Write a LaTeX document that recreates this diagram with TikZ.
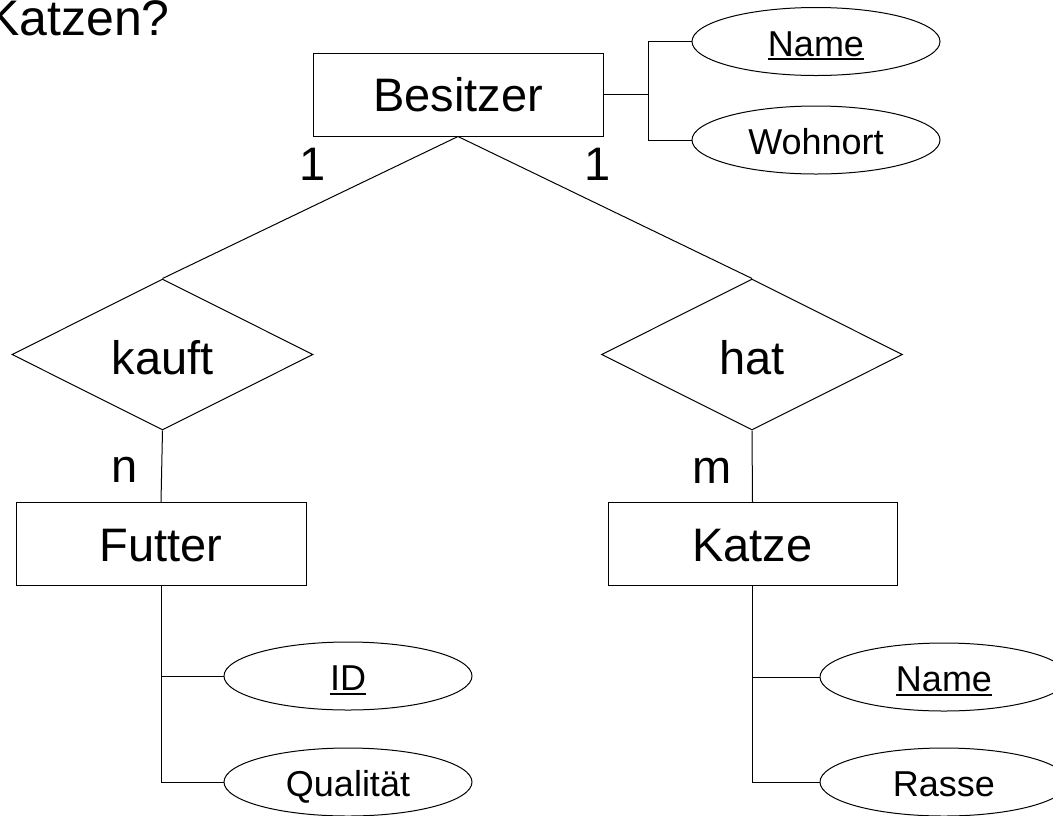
\documentclass[tikz,border=0pt]{standalone}
\usepackage{fontspec}
\setmainfont{Liberation Sans}
\usetikzlibrary{shapes.geometric}

% underlined key attribute
\newsavebox\keybox
\newcommand{\keyattr}[1]{\sbox\keybox{#1}\rlap{\rule[-4pt]{\wd\keybox}{2pt}}\usebox\keybox}

\tikzset{
  bigfont/.style={font=\fontsize{47}{56}\selectfont},
  entity/.style={draw, rectangle, line width=1pt, minimum width=290pt, minimum height=83pt,
                 inner sep=0pt, bigfont, text height=34pt, text depth=0pt},
  relation/.style={draw, diamond, line width=1pt, minimum width=301pt, minimum height=151pt,
                   inner sep=0pt, bigfont, text height=39pt, text depth=0pt},
  attr/.style={draw, ellipse, line width=1pt, minimum width=248pt, minimum height=68pt,
               inner sep=0pt, font=\fontsize{36}{43}\selectfont, text height=29pt, text depth=0pt},
  card/.style={bigfont, inner sep=0pt, anchor=base},
  link/.style={line width=1pt}
}

\begin{document}
\begin{tikzpicture}[x=1pt, y=-1pt]
  \useasboundingbox (0,0) rectangle (1053,815);
  \clip (0,0) rectangle (1053,815);

  \node[inner sep=0pt, anchor=base west, font=\fontsize{50}{60}\selectfont] (title) at (-14,35) {Katzen?};

  % entities
  \node[entity] (besitzer) at (458,94.5) {Besitzer};
  \node[entity] (futter) at (161,544) {Futter};
  \node[entity, minimum width=289pt] (katze) at (752.5,544) {Katze};

  % relationships
  \node[relation] (kauft) at (162.5,354.5) {kauft};
  \node[relation] (hat) at (752,354.5) {hat};

  % attributes
  \node[attr] (bname) at (816,41.5) {\keyattr{Name}};
  \node[attr] (wohnort) at (816,140) {Wohnort};
  \node[attr] (fid) at (348,676) {\keyattr{ID}};
  \node[attr] (qual) at (348,782) {Qualität};
  \node[attr] (kname) at (944,677) {\keyattr{Name}};
  \node[attr] (rasse) at (944,782) {Rasse};

  % relationship lines
  \draw[link] (besitzer.south) -- (kauft.north);
  \draw[link] (besitzer.south) -- (hat.north);
  \draw[link] (kauft.south) -- (futter.north);
  \draw[link] (hat.south) -- (katze.north);

  % attribute lines
  \coordinate (bj) at (648,94.5);
  \draw[link] (besitzer.east) -- (bj);
  \draw[link] (bj) |- (bname.west);
  \draw[link] (bj) |- (wohnort.west);
  \draw[link] (futter.south) |- (fid.west);
  \draw[link] (futter.south) |- (qual.west);
  \draw[link] (katze.south) |- (kname.west);
  \draw[link] (katze.south) |- (rasse.west);

  % cardinalities
  \node[card] (c1) at (313,180) {1};
  \node[card] (c2) at (598,180) {1};
  \node[card] (cn) at (125,482) {n};
  \node[card] (cm) at (712,483) {m};
\end{tikzpicture}
\end{document}
